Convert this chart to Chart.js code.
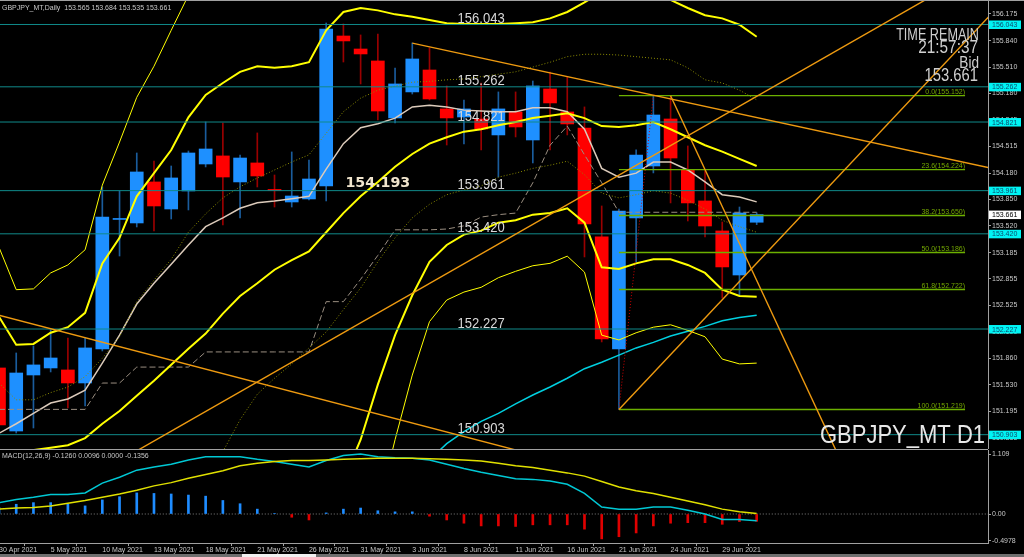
<!DOCTYPE html>
<html>
<head>
<meta charset="utf-8">
<script src="https://cdn.jsdelivr.net/npm/chart.js@4.4.1/dist/chart.umd.min.js"></script>
<style>
  html, body { margin: 0; padding: 0; background: #000; overflow: hidden; }
  #wrap { position: relative; width: 1024px; height: 557px; background: #000; }
  #price { position: absolute; left: 0; top: 0; }
  #macd { position: absolute; left: 0; top: 448px; }
  #strip { position: absolute; left: 0; top: 554px; width: 1024px; height: 3px; background: #6e6e6e; }
  #tab { position: absolute; left: 242px; top: 554px; width: 74px; height: 3px; background: #f0f0f0; }
</style>
</head>
<body>
<div id="wrap">
  <canvas id="price" width="1024" height="449"></canvas>
  <canvas id="macd" width="1024" height="106"></canvas>
  <div id="strip"></div><div id="tab"></div>
</div>
<script>
// ---- data (GBPJPY daily, 30 Apr - 1 Jul 2021) ----
const dates = ['30 Apr 2021','3 May 2021','4 May 2021','5 May 2021','6 May 2021','7 May 2021','10 May 2021','11 May 2021','12 May 2021','13 May 2021','14 May 2021','17 May 2021','18 May 2021','19 May 2021','20 May 2021','21 May 2021','24 May 2021','25 May 2021','26 May 2021','27 May 2021','28 May 2021','31 May 2021','1 Jun 2021','2 Jun 2021','3 Jun 2021','4 Jun 2021','7 Jun 2021','8 Jun 2021','9 Jun 2021','10 Jun 2021','11 Jun 2021','14 Jun 2021','15 Jun 2021','16 Jun 2021','17 Jun 2021','18 Jun 2021','21 Jun 2021','22 Jun 2021','23 Jun 2021','24 Jun 2021','25 Jun 2021','28 Jun 2021','29 Jun 2021','30 Jun 2021','1 Jul 2021'];
const dateTicks = [0, 3, 6, 9, 12, 15, 18, 21, 24, 27, 30, 33, 36, 39, 42];

const open  = [151.739,150.949,151.651,151.739,151.714,151.551,151.977,153.600,153.556,154.070,153.731,153.957,154.295,154.396,154.070,154.308,153.976,153.819,153.857,154.020,155.899,155.736,155.586,154.872,155.198,155.473,154.985,154.884,154.859,154.659,154.947,154.596,155.235,154.947,154.746,153.381,151.977,153.619,154.270,154.859,154.220,153.832,153.456,152.904,153.565];
const high  = [151.839,151.927,152.015,152.215,152.115,152.115,154.007,153.957,154.433,154.333,154.270,154.458,154.822,154.809,154.408,154.684,154.157,154.446,154.345,156.062,156.050,155.912,155.924,155.498,155.812,155.749,155.273,155.097,155.310,155.198,155.198,155.335,155.448,155.386,155.010,153.769,153.731,154.471,155.152,155.147,154.521,154.208,153.568,153.756,153.684];
const low   = [150.937,150.924,150.987,151.689,151.238,151.263,151.952,153.142,153.506,153.456,153.606,153.719,154.258,153.531,153.619,154.007,153.756,153.756,153.844,153.832,155.573,155.298,154.847,154.809,155.172,155.097,154.533,154.546,154.471,154.132,154.634,154.308,154.471,154.659,153.130,152.065,151.219,153.067,154.183,153.807,153.581,153.381,152.616,152.654,153.535];
const close = [151.025,151.676,151.777,151.864,151.551,151.990,153.631,153.612,154.195,153.769,154.120,154.433,154.483,154.132,154.370,154.145,153.963,153.894,154.107,155.987,155.837,155.674,154.959,155.298,155.611,155.110,154.872,154.985,154.734,154.985,154.759,155.273,155.060,154.797,153.543,152.102,153.706,154.408,154.909,154.370,153.807,153.518,153.005,153.681,153.661];

// Bollinger(20) lines
const bbMid = [150.65,150.69,150.71,150.74,150.77,150.86,151.04,151.20,151.39,151.58,151.78,151.98,152.17,152.42,152.64,152.80,152.97,153.09,153.20,153.44,153.68,153.89,154.07,154.26,154.42,154.55,154.63,154.70,154.73,154.78,154.82,154.87,154.90,154.93,154.87,154.77,154.76,154.78,154.82,154.73,154.63,154.53,154.45,154.36,154.27];
const bbUp1 = [151.55,151.34,151.34,151.43,151.50,151.63,151.86,152.13,152.57,152.84,153.10,153.44,153.67,153.87,154.01,154.12,154.22,154.32,154.41,154.68,154.95,155.12,155.22,155.27,155.32,155.33,155.35,155.36,155.39,155.42,155.45,155.51,155.57,155.64,155.67,155.67,155.66,155.64,155.62,155.60,155.50,155.35,155.31,155.22,155.10];
const bbDn1 = [null,null,null,null,null,null,null,null,null,null,null,null,150.62,150.69,151.09,151.41,151.61,151.79,151.99,152.19,152.47,152.74,153.07,153.37,153.62,153.79,153.91,153.97,154.02,154.13,154.18,154.24,154.28,154.33,154.16,153.93,153.87,153.91,153.96,153.93,153.84,153.73,153.59,153.51,153.44];
const bbUp2 = [152.38,152.03,152.04,152.18,152.25,152.43,153.05,153.37,153.89,154.18,154.47,154.88,155.16,155.31,155.45,155.52,155.50,155.52,155.57,155.97,156.20,156.25,156.22,156.17,156.14,156.10,156.06,156.05,156.05,156.05,156.06,156.07,156.12,156.20,156.32,156.45,156.54,156.54,156.53,156.35,156.25,156.16,156.12,156.04,155.89];
const bbDn2 = [null,null,null,null,null,null,null,null,null,null,null,null,null,null,null,null,null,null,null,null,150.33,150.84,151.53,152.15,152.65,153.07,153.28,153.41,153.46,153.56,153.59,153.66,153.68,153.74,153.56,153.00,152.98,153.05,153.10,153.10,153.03,152.93,152.72,152.64,152.63];
const bbUp3 = [153.25,152.72,152.73,152.93,153.03,153.22,154.03,154.57,155.13,155.52,155.97,156.41,156.66,156.91,null,null,null,null,null,null,null,null,null,null,null,null,null,null,null,null,null,null,null,null,null,null,null,null,null,null,null,null,null,null,null];
const bbDn3 = [null,null,null,null,null,null,null,null,null,null,null,null,null,null,null,null,null,null,null,null,null,null,149.96,150.84,151.65,152.32,152.59,152.69,152.75,152.87,152.95,153.02,153.05,153.14,152.94,152.15,152.09,152.18,152.25,152.28,152.21,152.13,151.85,151.79,151.80];

// other indicator lines
const maFast = [150.92,151.04,151.17,151.30,151.35,151.46,151.80,152.15,152.54,152.80,153.04,153.28,153.51,153.62,153.74,153.81,153.83,153.86,153.89,154.23,154.55,154.75,154.80,154.87,155.01,155.03,155.01,154.97,154.96,154.95,154.95,155.00,155.00,154.95,154.73,154.24,154.13,154.18,154.32,154.32,154.22,154.07,153.91,153.88,153.82];
const kijun = [151.22,151.22,151.22,151.22,151.22,151.22,151.55,151.55,151.75,151.75,151.75,151.75,151.94,151.94,151.94,151.94,151.94,151.94,151.94,152.57,152.57,152.85,153.15,153.47,153.47,153.47,153.48,153.52,153.63,153.66,153.68,154.06,154.53,154.77,154.41,154.06,153.69,153.69,153.69,153.69,153.69,153.69,153.69,153.69,153.69];
const maSlow = [null,null,null,null,null,null,null,null,null,null,null,null,null,null,null,null,null,null,null,null,null,null,null,null,null,150.59,150.79,150.94,151.07,151.17,151.29,151.40,151.50,151.61,151.73,151.81,151.90,151.99,152.06,152.14,152.20,152.26,152.33,152.37,152.40];

// MACD(12,26,9)
const macdMain   = [0.21,0.27,0.31,0.36,0.36,0.39,0.57,0.68,0.81,0.87,0.92,1.00,1.06,1.06,1.06,1.01,0.97,0.92,0.87,0.99,1.08,1.11,1.06,1.04,1.03,1.00,0.92,0.84,0.77,0.71,0.65,0.64,0.61,0.55,0.38,0.13,0.09,0.09,0.13,0.13,0.07,0.00,-0.10,-0.10,-0.126];
const macdSignal = [0.09,0.11,0.12,0.15,0.20,0.25,0.31,0.37,0.44,0.52,0.58,0.66,0.73,0.80,0.89,0.94,0.97,0.99,0.99,1.00,1.01,1.02,1.03,1.03,1.03,1.02,1.01,1.00,0.98,0.94,0.89,0.86,0.81,0.76,0.70,0.60,0.50,0.43,0.38,0.31,0.24,0.17,0.09,0.04,0.0096];
const macdHist   = [0.12,0.18,0.21,0.21,0.18,0.15,0.26,0.32,0.39,0.38,0.37,0.35,0.33,0.25,0.19,0.09,0.01,-0.06,-0.11,0.02,0.09,0.11,0.06,0.04,0.04,-0.04,-0.11,-0.17,-0.22,-0.22,-0.23,-0.20,-0.20,-0.20,-0.28,-0.46,-0.42,-0.35,-0.22,-0.17,-0.16,-0.16,-0.19,-0.14,-0.1356];

// chart objects
const hLines = [156.043, 155.262, 154.821, 153.961, 153.420, 152.227, 150.903];
const fibLevels = [155.152, 154.224, 153.650, 153.186, 152.722, 151.219];
const fibNames = ['0.0', '23.6', '38.2', '50.0', '61.8', '100.0'];
const fibStart = 36, fibEnd = 56.1;
// trend lines: [bar, price, bar, price]
const trendLines = [
  [0, 152.40, 35, 150.43],
  [8, 150.70, 55, 156.50],
  [36, 151.219, 58, 156.26],
  [24, 155.81, 58, 154.225],
  [39, 155.15, 50, 150.06]
];
const priceTicks = [156.175,155.840,155.510,155.180,154.845,154.515,154.180,153.850,153.520,153.185,152.855,152.525,152.190,151.860,151.530,151.195,150.865];
const macdTicks = [1.109, 0, -0.4978];
const macdTickText = ['1.109', '0.00', '-0.4978'];
const bid = 153.661;

// ---- layout constants ----
const X_MIN = 0.058, X_MAX = 57.433;
const FONT = '"Liberation Sans", Arial, sans-serif';
const AXIS = '#a0a0a0';

Chart.defaults.font.family = FONT;
Chart.defaults.animation = false;

const xy = arr => arr.map((v, i) => ({ x: i, y: v }));
const flat = v => [{ x: X_MIN - 1, y: v }, { x: X_MAX + 1, y: v }];

function line(data, color, width, extra) {
    return Object.assign({ type: 'line', data, borderColor: color, borderWidth: width, pointRadius: 0, tension: 0, fill: false, spanGaps: false }, extra || {});
}

function txt(ctx, s, x, y, font, color, align, sx) {
    ctx.save();
    ctx.font = font;
    ctx.fillStyle = color;
    ctx.textAlign = align || 'left';
    ctx.textBaseline = 'alphabetic';
    ctx.translate(x, y);
    ctx.scale(sx || 1, 1);
    ctx.fillText(s, 0, 0);
    ctx.restore();
}

const bull = close.map((c, i) => c >= open[i]);

const priceDatasets = [];
// objects on top
trendLines.forEach(t => priceDatasets.push(line([{ x: t[0], y: t[1] }, { x: t[2], y: t[3] }], '#ee9a10', 1.4, { order: 1 })));
fibLevels.forEach(v => priceDatasets.push(line([{ x: fibStart, y: v }, { x: fibEnd, y: v }], '#6cb000', 1.4, { order: 1 })));
priceDatasets.push(line([{ x: fibStart, y: fibLevels[5] }, { x: 38, y: fibLevels[0] }], '#d00000', 1, { borderDash: [1, 2], order: 1 }));
hLines.forEach(v => priceDatasets.push(line(flat(v), '#108a8a', 1, { order: 2 })));
// indicators
priceDatasets.push(line(xy(bbUp3), '#ffff00', 1, { order: 3 }));
priceDatasets.push(line(xy(bbDn3), '#ffff00', 1, { order: 3 }));
priceDatasets.push(line(xy(bbUp2), '#ffff00', 2, { order: 3 }));
priceDatasets.push(line(xy(bbDn2), '#ffff00', 2, { order: 3 }));
priceDatasets.push(line(xy(bbMid), '#ffff00', 2, { order: 3 }));
priceDatasets.push(line(xy(bbUp1), '#8c8c00', 1, { borderDash: [1, 2], order: 3 }));
priceDatasets.push(line(xy(bbDn1), '#8c8c00', 1, { borderDash: [1, 2], order: 3 }));
priceDatasets.push(line(xy(maSlow), '#00d0e0', 1.5, { order: 3 }));
priceDatasets.push(line(xy(kijun), '#9a8e80', 1, { borderDash: [6, 3], order: 3 }));
priceDatasets.push(line(xy(maFast), '#dccbbb', 1.5, { order: 3 }));
// candles underneath
priceDatasets.push({
    type: 'bar', order: 9, grouped: false, barThickness: 1,
    data: low.map((l, i) => ({ x: i, y: [l, high[i]] })),
    backgroundColor: bull.map(b => b ? '#1a5c9c' : '#9a0000')
});
priceDatasets.push({
    type: 'bar', order: 8, grouped: false, barThickness: 13, minBarLength: 1, borderSkipped: false,
    data: open.map((o, i) => ({ x: i, y: [o, close[i]] })),
    backgroundColor: bull.map(b => b ? '#1e90ff' : '#ff0000')
});

const priceOverlay = {
    id: 'priceOverlay',
    afterDraw(chart) {
        const { ctx, chartArea: a } = chart;
        const xs = chart.scales.x, ys = chart.scales.y;
        ctx.save();
        ctx.strokeStyle = AXIS;
        ctx.lineWidth = 1;
        ctx.beginPath(); ctx.moveTo(0, 0.5); ctx.lineTo(a.right + 36, 0.5); ctx.stroke();

        txt(ctx, 'GBPJPY_MT,Daily  153.565 153.684 153.535 153.661', 2, 9.5, '7px ' + FONT, '#c8c8c8');

        // horizontal line captions
        hLines.forEach(v => txt(ctx, v.toFixed(3), xs.getPixelForValue(28), ys.getPixelForValue(v) - 1.5, '15px ' + FONT, '#d8d8d8', 'center', 0.87));
        txt(ctx, '154.193', xs.getPixelForValue(22), ys.getPixelForValue(154.193) + 14.5, 'bold 14.7px "DejaVu Sans"', '#f0e4cc', 'center', 0.97);

        // fibo captions
        fibLevels.forEach((v, i) => txt(ctx, fibNames[i] + '(' + v.toFixed(3) + ')', xs.getPixelForValue(fibEnd), ys.getPixelForValue(v) - 1.5, '7px ' + FONT, '#74a800', 'right'));

        // right-axis price boxes
        hLines.forEach(v => {
            const yy = ys.getPixelForValue(v);
            ctx.fillStyle = '#00f4f4';
            ctx.fillRect(a.right + 1, yy - 4, 32, 8.5);
            txt(ctx, v.toFixed(3), a.right + 4, yy + 2.6, '7px ' + FONT, '#0b4a6c');
        });
        const yb = ys.getPixelForValue(bid);
        ctx.fillStyle = '#ffffff';
        ctx.fillRect(a.right + 1, yb - 4, 32, 8.5);
        txt(ctx, bid.toFixed(3), a.right + 4, yb + 2.6, '7px ' + FONT, '#000000');

        // timer block
        txt(ctx, 'TIME REMAIN', 979, 40, '16px ' + FONT, '#d0d0d0', 'right', 0.79);
        txt(ctx, '21:57:37', 978, 53.3, '18.5px ' + FONT, '#d0d0d0', 'right', 0.83);
        txt(ctx, 'Bid', 979, 68.3, '17px ' + FONT, '#d0d0d0', 'right', 0.8);
        txt(ctx, '153.661', 978, 80.5, '18.5px ' + FONT, '#d0d0d0', 'right', 0.8);

        txt(ctx, 'GBPJPY_MT D1', 985, 443, '26.5px ' + FONT, '#e8e8e8', 'right', 0.83);
        ctx.restore();
    }
};

new Chart(document.getElementById('price'), {
    type: 'line',
    data: { datasets: priceDatasets },
    options: {
        responsive: false,
        animation: false,
        events: [],
        layout: { padding: 0 },
        plugins: { legend: { display: false }, tooltip: { enabled: false } },
        scales: {
            x: { type: 'linear', min: X_MIN, max: X_MAX, offset: false, display: false },
            y: {
                position: 'right', min: 150.7235, max: 156.35,
                afterBuildTicks: s => { s.ticks = priceTicks.map(v => ({ value: v })); },
                afterFit: s => { s.width = 36; s.paddingTop = 0; s.paddingBottom = 0; },
                ticks: { autoSkip: false, color: '#c8c8c8', font: { size: 7 }, padding: 1, callback: v => v.toFixed(3) },
                grid: { drawOnChartArea: false, drawTicks: true, tickLength: 3, color: AXIS },
                border: { display: true, color: AXIS }
            }
        }
    },
    plugins: [priceOverlay]
});

const macdOverlay = {
    id: 'macdOverlay',
    afterDraw(chart) {
        const { ctx, chartArea: a } = chart;
        ctx.save();
        ctx.strokeStyle = AXIS;
        ctx.lineWidth = 1;
        ctx.beginPath(); ctx.moveTo(0, a.top - 0.5); ctx.lineTo(a.right, a.top - 0.5); ctx.stroke();
        txt(ctx, 'MACD(12,26,9) -0.1260 0.0096 0.0000 -0.1356', 2, 9.5, '7px ' + FONT, '#c8c8c8');
        ctx.restore();
    }
};

new Chart(document.getElementById('macd'), {
    type: 'line',
    data: {
        datasets: [
            line(flat(0), '#808080', 1, { borderDash: [1, 2], order: 3 }),
            line(xy(macdSignal), '#e0e000', 1.5, { order: 1 }),
            line(xy(macdMain), '#00c8d4', 1.5, { order: 1 }),
            {
                type: 'bar', order: 2, barThickness: 2,
                data: xy(macdHist),
                backgroundColor: macdHist.map(v => v >= 0 ? '#1e8cff' : '#e00000')
            }
        ]
    },
    options: {
        responsive: false,
        animation: false,
        events: [],
        layout: { padding: { top: 2 } },
        plugins: { legend: { display: false }, tooltip: { enabled: false } },
        scales: {
            x: {
                type: 'linear', min: X_MIN, max: X_MAX, offset: false,
                afterBuildTicks: s => { s.ticks = dateTicks.map(v => ({ value: v })); },
                afterFit: s => { s.height = 11; s.paddingLeft = 0; s.paddingRight = 0; },
                ticks: { autoSkip: false, maxRotation: 0, minRotation: 0, align: 'start', color: '#c8c8c8', font: { size: 7 }, padding: 0, callback: v => dates[v] },
                grid: { drawOnChartArea: false, drawTicks: true, tickLength: 3, color: AXIS },
                border: { display: true, color: AXIS }
            },
            y: {
                position: 'right', min: -0.536, max: 1.183,
                afterBuildTicks: s => { s.ticks = macdTicks.map(v => ({ value: v })); },
                afterFit: s => { s.width = 36; s.paddingTop = 0; s.paddingBottom = 0; },
                ticks: { autoSkip: false, color: '#c8c8c8', font: { size: 7 }, padding: 1, callback: (v, i) => macdTickText[i] },
                grid: { drawOnChartArea: false, drawTicks: true, tickLength: 3, color: AXIS },
                border: { display: true, color: AXIS }
            }
        }
    },
    plugins: [macdOverlay]
});
</script>
</body>
</html>
